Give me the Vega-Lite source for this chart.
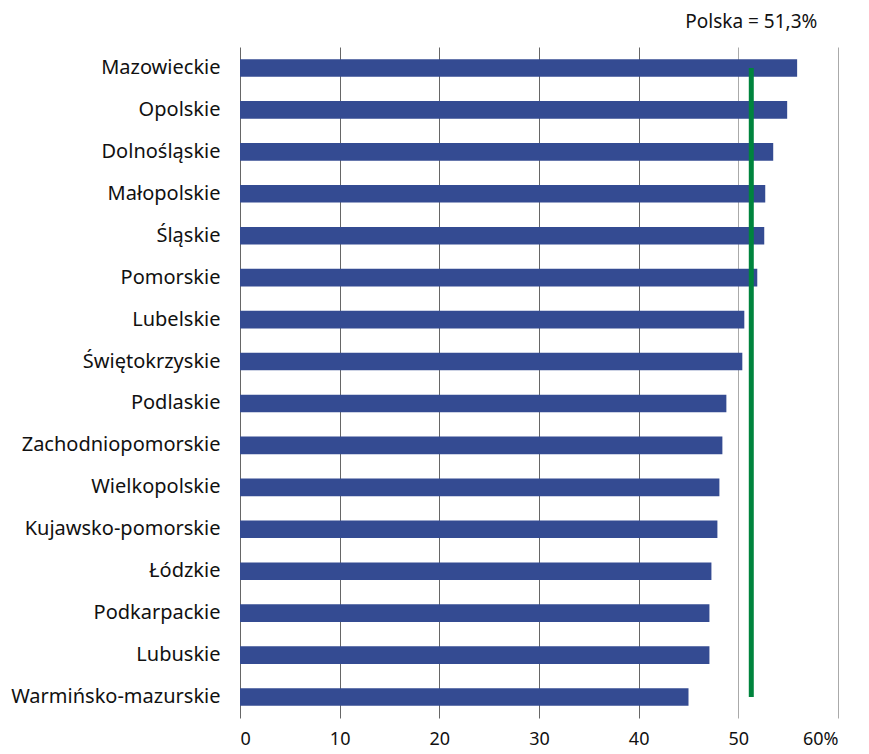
{
  "$schema": "https://vega.github.io/schema/vega-lite/v6.json",
  "autosize": "none",
  "padding": {"left": 240, "top": 47, "right": 31, "bottom": 36},
  "width": 598,
  "height": 671,
  "background": "white",
  "config": {"view": {"stroke": null}, "font": "Noto Sans"},
  "datasets": {
    "regions": [
      {"region": "Mazowieckie", "value": 55.9},
      {"region": "Opolskie", "value": 54.9},
      {"region": "Dolnośląskie", "value": 53.5},
      {"region": "Małopolskie", "value": 52.7},
      {"region": "Śląskie", "value": 52.6},
      {"region": "Pomorskie", "value": 51.9},
      {"region": "Lubelskie", "value": 50.6},
      {"region": "Świętokrzyskie", "value": 50.4},
      {"region": "Podlaskie", "value": 48.8},
      {"region": "Zachodniopomorskie", "value": 48.4},
      {"region": "Wielkopolskie", "value": 48.1},
      {"region": "Kujawsko-pomorskie", "value": 47.9},
      {"region": "Łódzkie", "value": 47.3},
      {"region": "Podkarpackie", "value": 47.1},
      {"region": "Lubuskie", "value": 47.1},
      {"region": "Warmińsko-mazurskie", "value": 45.0}
    ],
    "poland": [
      {"value": 51.3, "label": "Polska = 51,3%", "first": "Mazowieckie", "last": "Warmińsko-mazurskie"}
    ]
  },
  "layer": [
    {
      "data": {"name": "regions"},
      "mark": {"type": "bar", "color": "#344b92"},
      "encoding": {
        "y": {
          "field": "region", "type": "nominal", "sort": null,
          "scale": {"paddingInner": 0.58, "paddingOuter": 0.29},
          "axis": {
            "title": null, "domain": false, "ticks": false, "labelPadding": 20, "labelLimit": 400,
            "labelFontSize": 20, "labelColor": "#111111", "labelFont": "Noto Sans"
          }
        },
        "x": {
          "field": "value", "type": "quantitative",
          "scale": {"domain": [0, 60], "nice": false},
          "axis": {
            "title": null, "domain": false, "ticks": false, "values": [0, 10, 20, 30, 40, 50, 60],
            "labelExpr": "datum.value == 60 ? '60%' : datum.label",
            "labelPadding": 12, "labelFontSize": 18, "labelColor": "#111111", "labelFont": "Noto Sans",
            "grid": true,
            "gridColor": {"condition": {"test": "datum.value >= 50", "value": "#aaaaaa"}, "value": "#666666"},
            "gridWidth": 1
          }
        }
      }
    },
    {
      "data": {"name": "poland"},
      "mark": {"type": "rule", "color": "#00843d", "strokeWidth": 5},
      "encoding": {
        "x": {"field": "value", "type": "quantitative"},
        "y": {"field": "first", "type": "nominal", "sort": null},
        "y2": {"field": "last"}
      }
    },
    {
      "data": {"name": "poland"},
      "mark": {"type": "text", "fontSize": 19, "font": "Noto Sans", "color": "#111111", "dy": -46, "align": "center"},
      "encoding": {
        "x": {"field": "value", "type": "quantitative"},
        "y": {"field": "first", "type": "nominal", "sort": null},
        "text": {"field": "label"}
      }
    }
  ]
}
